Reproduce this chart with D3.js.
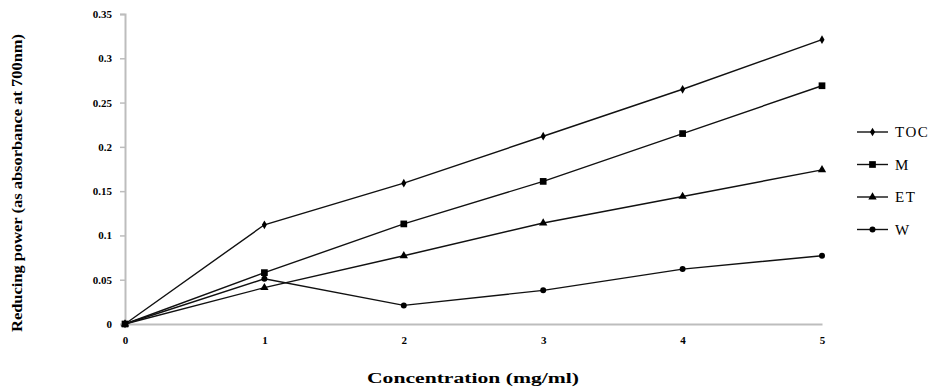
<!DOCTYPE html>
<html>
<head>
<meta charset="utf-8">
<script src="https://cdn.jsdelivr.net/npm/d3@7"></script>
<style>
  body { margin: 0; background: #fff; }
  svg text { font-family: "Liberation Serif", "DejaVu Serif", serif; }
</style>
</head>
<body>
<div id="chart"></div>
<script>
// concentrations (mg/ml)
var concentrations = [0, 1, 2, 3, 4, 5];
var seriesNames = ["TOC", "M", "ET", "W"];
var tocValues = [0, 0.112, 0.159, 0.212, 0.265, 0.321];
var mValues   = [0, 0.058, 0.113, 0.161, 0.215, 0.269];
var etValues  = [0, 0.041, 0.077, 0.114, 0.144, 0.174];
var wValues   = [0, 0.051, 0.021, 0.038, 0.062, 0.077];
var yTicks = [0, 0.05, 0.1, 0.15, 0.2, 0.25, 0.3, 0.35];

var width = 934, height = 387;
var plotLeft = 125, plotRight = 822, plotTop = 14, plotBottom = 324;

var svg = d3.select("#chart").append("svg")
  .attr("width", width)
  .attr("height", height);

var x = d3.scaleLinear().domain([0, 5]).range([plotLeft, plotRight]);
var y = d3.scaleLinear().domain([0, 0.35]).range([plotBottom, plotTop]);

// y axis
var yAxis = svg.append("g")
  .attr("transform", "translate(" + plotLeft + ",0)")
  .call(d3.axisLeft(y).tickValues(yTicks).tickSize(5).tickPadding(8)
    .tickFormat(d => String(+d.toFixed(2))));
yAxis.select(".domain").attr("stroke", "#bdbdbd").attr("stroke-width", 2);
yAxis.selectAll(".tick line").attr("stroke", "#bdbdbd").attr("stroke-width", 1.5);
yAxis.selectAll(".tick text")
  .attr("font-size", 11).attr("font-weight", "bold").attr("fill", "#000")
  .style("font-family", "'Liberation Serif', serif");

// x axis
var xAxis = svg.append("g")
  .attr("transform", "translate(0," + plotBottom + ")")
  .call(d3.axisBottom(x).tickValues(concentrations).tickSize(0).tickPadding(12)
    .tickFormat(d3.format("d")));
xAxis.select(".domain").attr("stroke", "#bdbdbd").attr("stroke-width", 2);
xAxis.selectAll(".tick text")
  .attr("font-size", 11).attr("font-weight", "bold").attr("fill", "#000")
  .style("font-family", "'Liberation Serif', serif");

// titles
svg.append("text")
  .attr("transform", "translate(22,183) rotate(-90)")
  .attr("text-anchor", "middle")
  .attr("font-size", 14).attr("font-weight", "bold")
  .attr("textLength", 298).attr("lengthAdjust", "spacingAndGlyphs")
  .text("Reducing power (as absorbance at 700nm)");

svg.append("text")
  .attr("x", 473).attr("y", 383)
  .attr("text-anchor", "middle")
  .attr("font-size", 14).attr("font-weight", "bold")
  .attr("textLength", 212).attr("lengthAdjust", "spacingAndGlyphs")
  .text("Concentration (mg/ml)");

var series = [
  { name: seriesNames[0], values: tocValues, symbol: d3.symbolDiamond, size: 22 },
  { name: seriesNames[1], values: mValues, symbol: d3.symbolSquare, size: 45 },
  { name: seriesNames[2], values: etValues, symbol: d3.symbolTriangle, size: 30 },
  { name: seriesNames[3], values: wValues, symbol: d3.symbolCircle, size: 28 }
];

var line = d3.line()
  .x((d, i) => x(concentrations[i]))
  .y(d => y(d));

series.forEach(function (s) {
  svg.append("path")
    .attr("d", line(s.values))
    .attr("fill", "none")
    .attr("stroke", "#111")
    .attr("stroke-width", 1.4);
});

series.forEach(function (s) {
  svg.append("g").selectAll("path")
    .data(s.values)
    .enter()
    .append("path")
    .attr("transform", (d, i) => "translate(" + x(concentrations[i]) + "," + y(d) + ")")
    .attr("d", d3.symbol().type(s.symbol).size(s.size))
    .attr("fill", "#000");
});

// legend
var legend = svg.append("g")
  .selectAll("g")
  .data(series)
  .enter()
  .append("g")
  .attr("transform", (d, i) => "translate(857," + (132 + i * 32.5) + ")");

legend.append("line")
  .attr("x1", 0).attr("x2", 31)
  .attr("stroke", "#111").attr("stroke-width", 1.4);
legend.append("path")
  .attr("transform", "translate(15.5,0)")
  .attr("d", d => d3.symbol().type(d.symbol).size(d.size)())
  .attr("fill", "#000");
legend.append("text")
  .attr("x", 38).attr("y", 5)
  .attr("font-size", 15)
  .attr("letter-spacing", 1.5)
  .text(d => d.name);
</script>
</body>
</html>
